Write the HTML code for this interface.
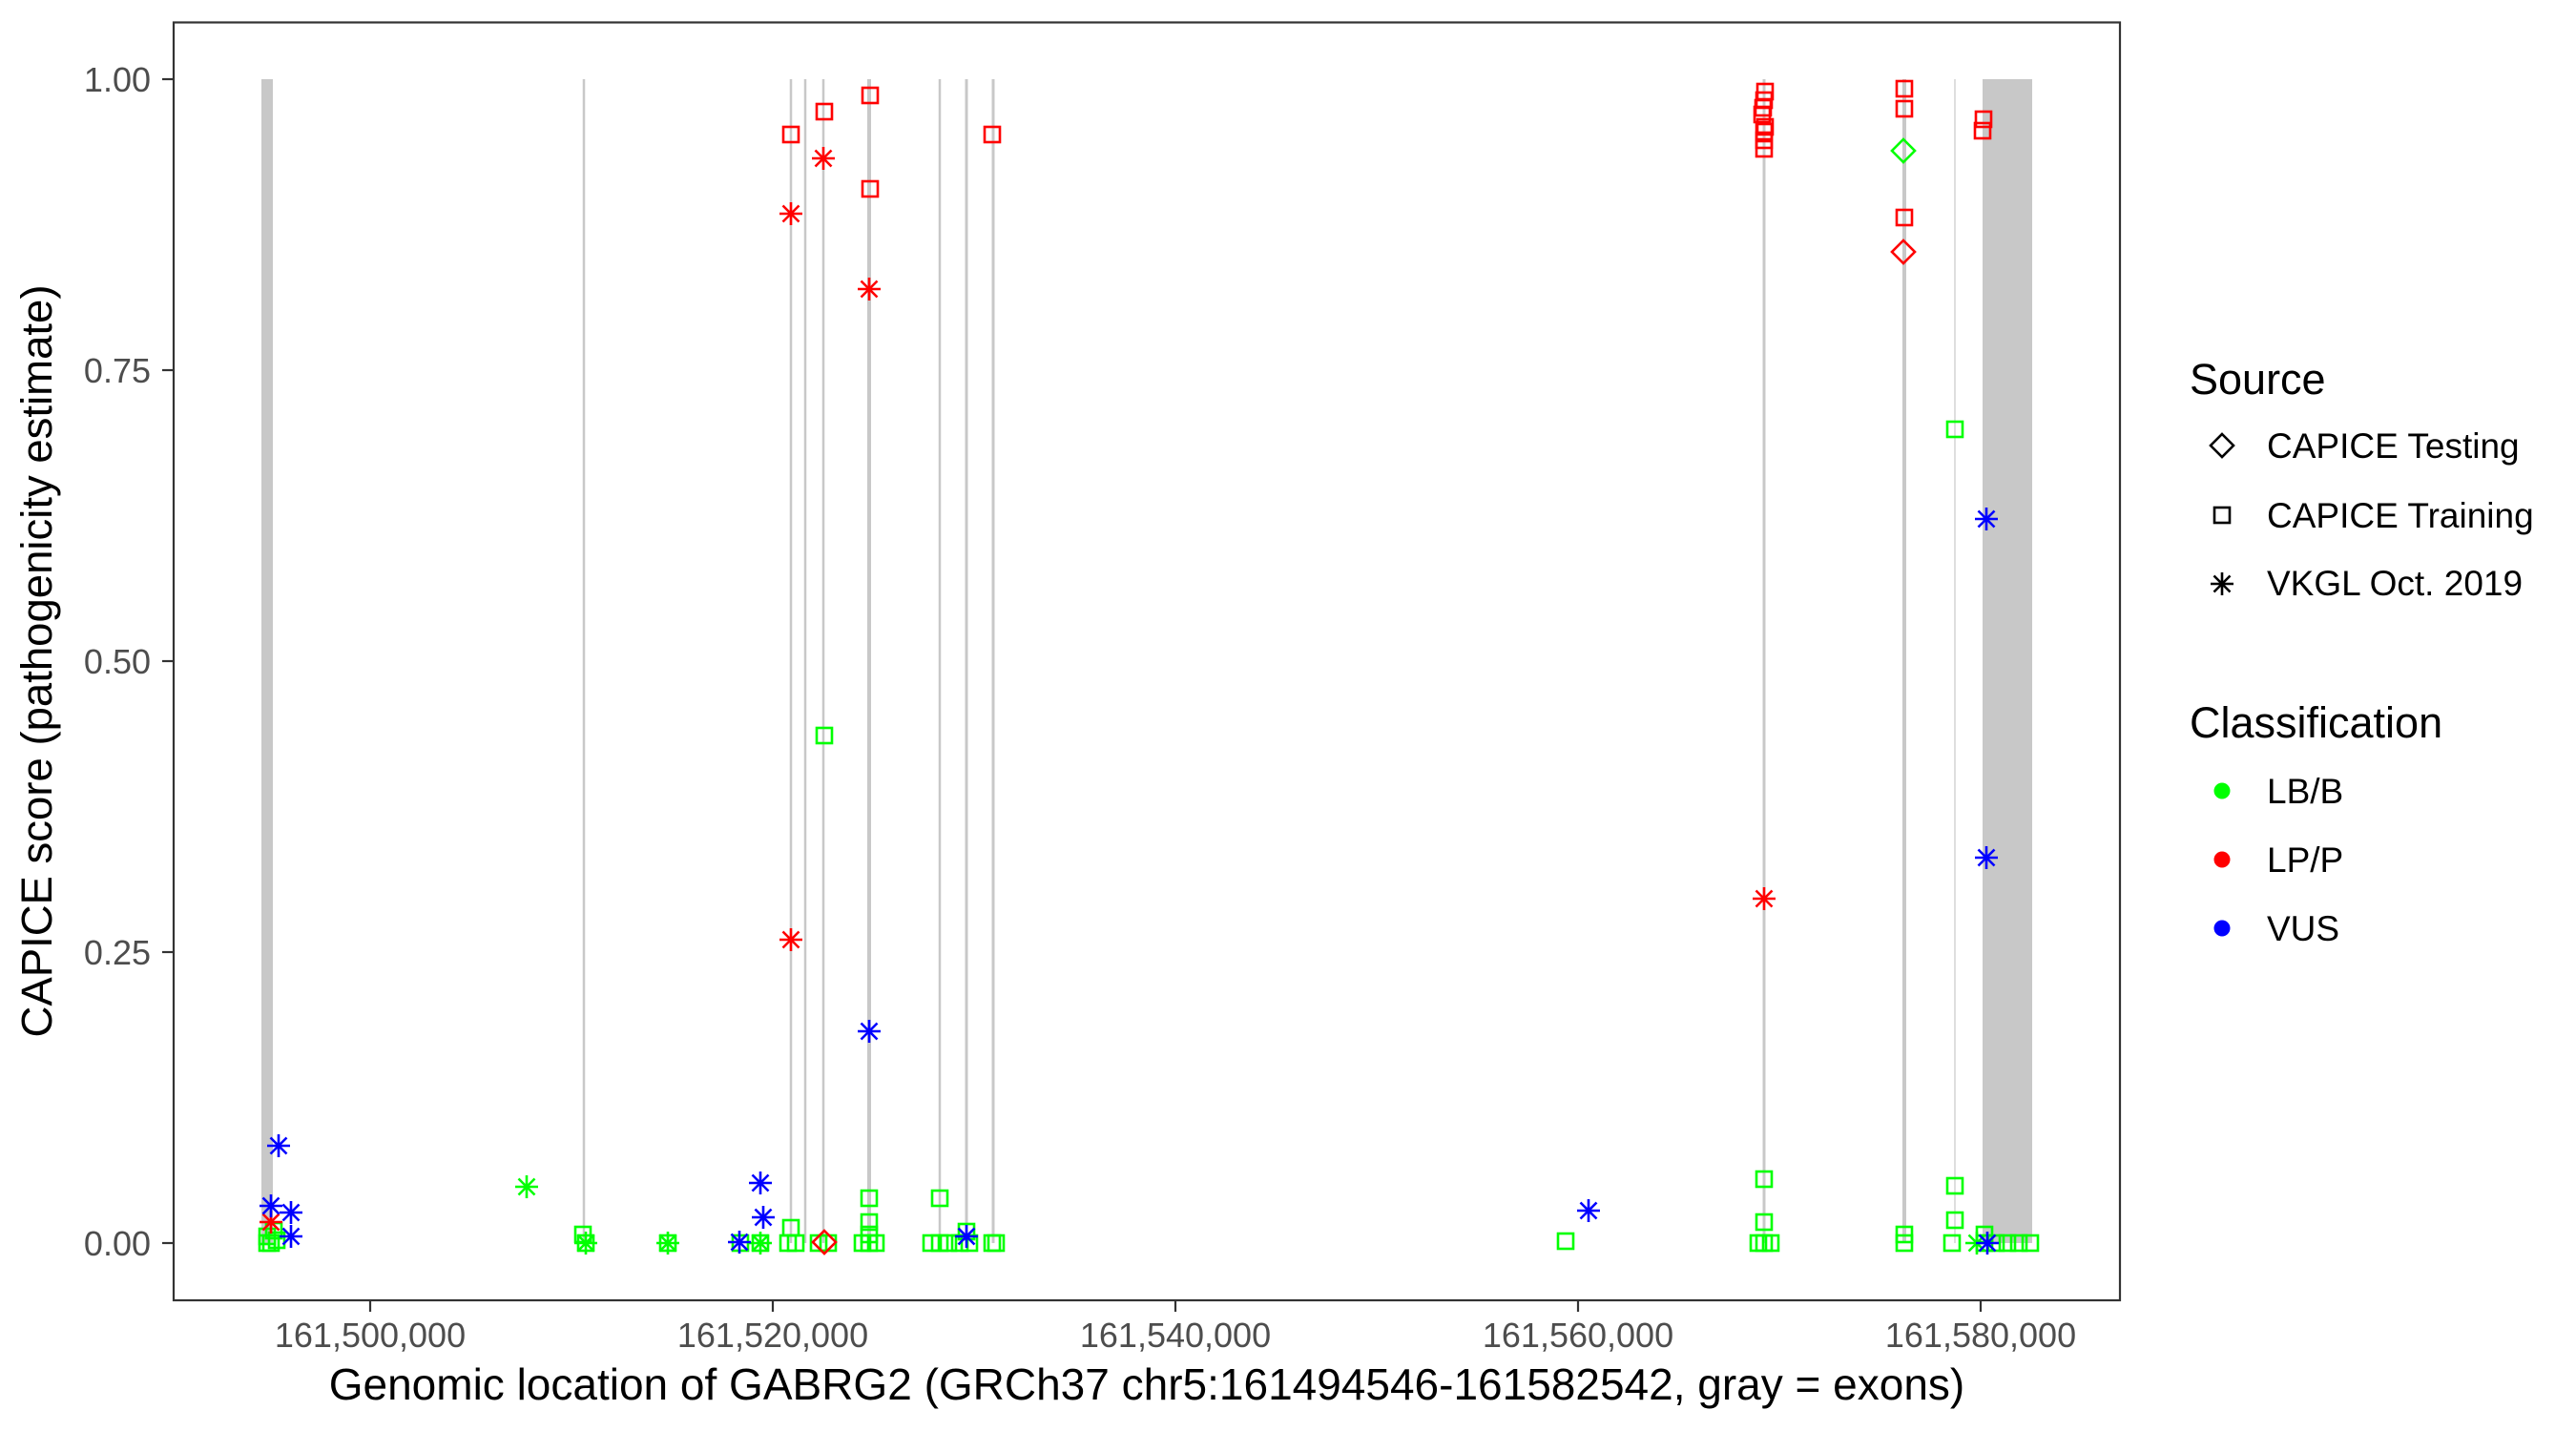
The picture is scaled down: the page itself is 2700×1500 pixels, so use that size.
<!DOCTYPE html>
<html><head><meta charset="utf-8"><style>
html,body{margin:0;padding:0;background:#fff;}
svg{display:block;font-family:"Liberation Sans",Arial,sans-serif;}
</style></head><body>
<svg width="2700" height="1500" viewBox="0 0 2700 1500" xmlns="http://www.w3.org/2000/svg">
<defs>
<g id="sq"><rect x="-8" y="-8" width="16" height="16" fill="none" stroke-width="2.6"/></g>
<g id="di"><path d="M0,-12 L12,0 L0,12 L-12,0 Z" fill="none" stroke-width="2.6"/></g>
<g id="st" stroke-width="2.6"><path d="M0,-12V12M-12,0H12M-8.5,-8.5L8.5,8.5M-8.5,8.5L8.5,-8.5"/></g>
</defs>
<rect width="2700" height="1500" fill="#fff"/>
<g fill="#c8c8c8">
<rect x="274" y="83" width="12" height="1220"/>
<rect x="2078" y="83" width="52" height="1220"/>
</g>
<g stroke="#c8c8c8">
<line x1="612" y1="83" x2="612" y2="1303" stroke-width="2.5"/>
<line x1="829" y1="83" x2="829" y2="1303" stroke-width="2.5"/>
<line x1="844" y1="83" x2="844" y2="1303" stroke-width="2.5"/>
<line x1="863" y1="83" x2="863" y2="1303" stroke-width="2.5"/>
<line x1="911" y1="83" x2="911" y2="1303" stroke-width="4"/>
<line x1="985" y1="83" x2="985" y2="1303" stroke-width="2.5"/>
<line x1="1013" y1="83" x2="1013" y2="1303" stroke-width="3"/>
<line x1="1041" y1="83" x2="1041" y2="1303" stroke-width="3"/>
<line x1="1849" y1="83" x2="1849" y2="1303" stroke-width="3"/>
<line x1="1996" y1="83" x2="1996" y2="1303" stroke-width="4"/>
<line x1="2049" y1="83" x2="2049" y2="1303" stroke-width="1.2"/>
</g>
<g stroke="#00ff00">
<use href="#sq" x="280" y="1296"/><use href="#sq" x="284" y="1303"/><use href="#sq" x="290" y="1300"/><use href="#sq" x="280" y="1303"/><use href="#sq" x="287" y="1290"/>
<use href="#st" x="552" y="1244"/>
<use href="#sq" x="611" y="1294"/><use href="#sq" x="614" y="1303"/><use href="#st" x="614" y="1303"/>
<use href="#sq" x="700" y="1303"/><use href="#st" x="700" y="1303"/>
<use href="#sq" x="776" y="1303"/>
<use href="#sq" x="797" y="1303"/><use href="#st" x="797" y="1303"/>
<use href="#sq" x="829" y="1287"/><use href="#sq" x="826" y="1303"/><use href="#sq" x="834" y="1303"/>
<use href="#sq" x="864" y="771"/><use href="#sq" x="858" y="1303"/><use href="#sq" x="868" y="1303"/>
<use href="#sq" x="911" y="1256"/><use href="#sq" x="911" y="1281"/><use href="#sq" x="911" y="1294"/><use href="#sq" x="904" y="1303"/><use href="#sq" x="911" y="1303"/><use href="#sq" x="918" y="1303"/>
<use href="#sq" x="985" y="1256"/><use href="#sq" x="976" y="1303"/><use href="#sq" x="985" y="1303"/><use href="#sq" x="994" y="1303"/>
<use href="#sq" x="1013" y="1291"/><use href="#sq" x="1006" y="1303"/><use href="#sq" x="1016" y="1303"/>
<use href="#sq" x="1040" y="1303"/><use href="#sq" x="1044" y="1303"/>
<use href="#sq" x="1641" y="1301"/>
<use href="#sq" x="1849" y="1236"/><use href="#sq" x="1849" y="1281"/><use href="#sq" x="1843" y="1303"/><use href="#sq" x="1849" y="1303"/><use href="#sq" x="1856" y="1303"/>
<use href="#di" x="1995" y="158"/>
<use href="#sq" x="1996" y="1294"/><use href="#sq" x="1996" y="1303"/>
<use href="#sq" x="2049" y="450"/><use href="#sq" x="2049" y="1243"/><use href="#sq" x="2049" y="1279"/><use href="#sq" x="2046" y="1303"/>
<use href="#st" x="2072" y="1303"/><use href="#sq" x="2080" y="1294"/><use href="#sq" x="2080" y="1303"/><use href="#sq" x="2092" y="1303"/><use href="#sq" x="2104" y="1303"/><use href="#sq" x="2116" y="1303"/><use href="#sq" x="2128" y="1303"/>
</g>
<g stroke="#ff0000">
<use href="#st" x="284" y="1281"/>
<use href="#sq" x="829" y="141"/><use href="#st" x="829" y="224"/><use href="#st" x="829" y="985"/>
<use href="#sq" x="864" y="117"/><use href="#st" x="863" y="166"/><use href="#di" x="864" y="1302"/>
<use href="#sq" x="912" y="100"/><use href="#sq" x="912" y="198"/><use href="#st" x="911" y="303"/>
<use href="#sq" x="1040" y="141"/>
<use href="#sq" x="1850" y="96"/><use href="#sq" x="1849" y="105"/><use href="#sq" x="1848" y="113"/><use href="#sq" x="1847" y="120"/><use href="#sq" x="1850" y="133"/><use href="#sq" x="1849" y="138"/><use href="#sq" x="1849" y="147"/><use href="#sq" x="1849" y="156"/>
<use href="#st" x="1849" y="942"/>
<use href="#sq" x="1996" y="93"/><use href="#sq" x="1996" y="114"/><use href="#sq" x="1996" y="228"/><use href="#di" x="1995" y="264"/>
<use href="#sq" x="2079" y="125"/><use href="#sq" x="2078" y="137"/>
</g>
<g stroke="#0000ff">
<use href="#st" x="292" y="1201"/><use href="#st" x="284" y="1264"/><use href="#st" x="305" y="1271"/><use href="#st" x="305" y="1296"/>
<use href="#st" x="775" y="1302"/><use href="#st" x="797" y="1240"/><use href="#st" x="800" y="1276"/>
<use href="#st" x="911" y="1081"/>
<use href="#st" x="1013" y="1296"/>
<use href="#st" x="1665" y="1269"/>
<use href="#st" x="2082" y="544"/><use href="#st" x="2082" y="899"/><use href="#st" x="2083" y="1303"/>
</g>
<rect x="182" y="23.5" width="2040" height="1339.5" fill="none" stroke="#333" stroke-width="2.2"/>
<g stroke="#333" stroke-width="2.2">
<line x1="170" y1="83" x2="182" y2="83"/><line x1="170" y1="388" x2="182" y2="388"/><line x1="170" y1="693" x2="182" y2="693"/><line x1="170" y1="998" x2="182" y2="998"/><line x1="170" y1="1303" x2="182" y2="1303"/>
<line x1="388" y1="1363" x2="388" y2="1375"/><line x1="810" y1="1363" x2="810" y2="1375"/><line x1="1232" y1="1363" x2="1232" y2="1375"/><line x1="1654" y1="1363" x2="1654" y2="1375"/><line x1="2076" y1="1363" x2="2076" y2="1375"/>
</g>
<g fill="#4d4d4d" font-size="36" text-anchor="end">
<text x="158" y="96">1.00</text><text x="158" y="401">0.75</text><text x="158" y="706">0.50</text><text x="158" y="1011">0.25</text><text x="158" y="1316">0.00</text>
</g>
<g fill="#4d4d4d" font-size="36" text-anchor="middle">
<text x="388" y="1412">161,500,000</text><text x="810" y="1412">161,520,000</text><text x="1232" y="1412">161,540,000</text><text x="1654" y="1412">161,560,000</text><text x="2076" y="1412">161,580,000</text>
</g>
<text x="1202" y="1467" font-size="46" text-anchor="middle" fill="#000">Genomic location of GABRG2 (GRCh37 chr5:161494546-161582542, gray = exons)</text>
<text transform="translate(54,693) rotate(-90)" font-size="45.5" text-anchor="middle" fill="#000">CAPICE score (pathogenicity estimate)</text>
<text x="2295" y="413" font-size="45" fill="#000">Source</text>
<g stroke="#000"><use href="#di" x="2329" y="467"/><use href="#sq" x="2329" y="540"/><use href="#st" x="2329" y="612"/></g>
<g font-size="37" fill="#000">
<text x="2376" y="480">CAPICE Testing</text><text x="2376" y="553">CAPICE Training</text><text x="2376" y="624">VKGL Oct. 2019</text>
</g>
<text x="2295" y="773" font-size="45" fill="#000">Classification</text>
<circle cx="2329" cy="829" r="8.5" fill="#00ff00"/><circle cx="2329" cy="901" r="8.5" fill="#ff0000"/><circle cx="2329" cy="973" r="8.5" fill="#0000ff"/>
<g font-size="37" fill="#000">
<text x="2376" y="842">LB/B</text><text x="2376" y="914">LP/P</text><text x="2376" y="986">VUS</text>
</g>
</svg>
</body></html>
